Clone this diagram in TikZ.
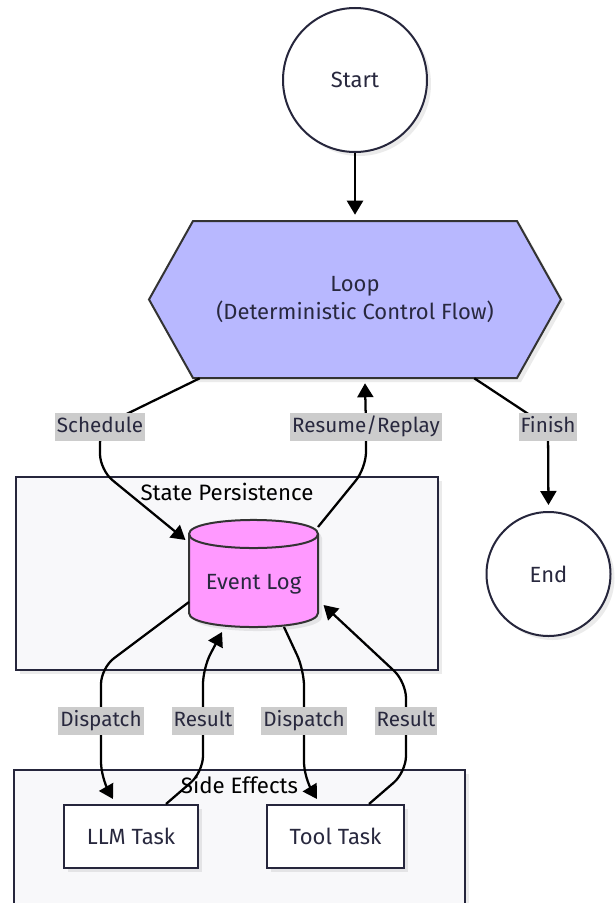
\documentclass[tikz,border=0pt]{standalone}
\usepackage{fontspec}
\setmainfont{Fira Sans}
\usetikzlibrary{arrows.meta,shadows,calc}
\definecolor{txt}{RGB}{40,40,62}
\definecolor{navy}{RGB}{38,38,60}
\definecolor{dgray}{RGB}{51,51,51}
\definecolor{hexfill}{RGB}{184,184,255}
\definecolor{cylfill}{RGB}{255,153,255}
\definecolor{clfill}{RGB}{248,248,250}
\definecolor{circfill}{RGB}{255,255,255}
\definecolor{lblfill}{RGB}{204,204,204}
\begin{document}
\begin{tikzpicture}[x=0.75pt,y=-0.75pt,
  font=\fontsize{16.5}{19}\selectfont,
  every node/.style={text=txt},
  myshadow/.style={drop shadow={shadow xshift=3pt,shadow yshift=-3pt,fill=black,opacity=0.08}},
  cluster/.style={draw=navy,line width=1.5pt,fill=clfill,myshadow},
  clusterlabel/.style={text=black,font=\fontsize{16.7}{19}\selectfont},
  roundnode/.style={circle,draw=navy,line width=1.5pt,fill=circfill,myshadow},
  taskbox/.style={rectangle,draw=navy,line width=1.5pt,fill=white,myshadow,minimum height=47.25pt},
  edge/.style={line width=1.7pt,rounded corners=12pt,-{Triangle[length=10.5pt,width=12pt]}},
  gap/.style={shorten >=4.5pt},
  edgelabel/.style={fill=lblfill,inner xsep=1.5pt,inner ysep=3pt,text height=12pt,text depth=3.5pt,
                    font=\fontsize{15.5}{18}\selectfont}
]
\useasboundingbox (0,0) rectangle (615,903);

% clusters
\filldraw[cluster] (16,477) rectangle (438,670);
\node[clusterlabel] (sp) at (227,492) {State Persistence};
\filldraw[cluster] (14,770) rectangle (465,910);
\node[clusterlabel] (se) at (239.5,785) {Side Effects};

% start / end
\node[roundnode,minimum size=108pt] (start) at (355,80) {Start};
\node[roundnode,minimum size=93pt] (end) at (548.5,574) {End};

% loop hexagon
\filldraw[draw=dgray,line width=1.5pt,fill=hexfill,myshadow]
  (193,221) -- (517,221) -- (561,299.5) -- (517,378) -- (193,378) -- (149,299.5) -- cycle;
\node[minimum width=243pt,minimum height=117.75pt,align=center,
      font=\fontsize{16.5}{21}\selectfont] (loop) at (355,299.5) {Loop\\(Deterministic Control Flow)};

% event log cylinder
\filldraw[draw=dgray,line width=1.5pt,fill=cylfill,myshadow]
  (189,534) -- (189,613) .. controls (189,631.7) and (318,631.7) .. (318,613)
  -- (318,534) .. controls (318,515.3) and (189,515.3) .. (189,534) -- cycle;
\draw[draw=dgray,line width=1.5pt] (189,534) .. controls (189,552.7) and (318,552.7) .. (318,534);
\node[minimum width=96.75pt,minimum height=64.5pt] (ev) at (253.5,584) {Event Log};

% tasks
\node[taskbox,minimum width=100.5pt] (llm) at (131,836.5) {LLM Task};
\node[taskbox,minimum width=102.75pt] (tool) at (335.5,836.5) {Tool Task};

% label positions
\coordinate (lsch) at (100,427);
\coordinate (lres) at (366,427);
\coordinate (lfin) at (548,427);
\coordinate (ld1) at (101,721);
\coordinate (lr1) at (203,721);
\coordinate (ld2) at (304,721);
\coordinate (lr2) at (406,721);

% edges
\draw[edge,gap] (start.south) -- (loop.north);
\draw[edge] ($(loop.south west)+(7,0)$) -- (lsch) -- (100,470) -- ($(ev.center)+(-68,-44)$);
\draw[edge] ($(ev.center)+(64.5,-57)$) -- (366,468) -- (lres) -- ($(loop.south)+(10,5)$);
\draw[edge,gap] ($(loop.south east)+(-43,0)$) -- (lfin) -- (end.north);
\draw[edge] ($(ev.center)+(-64.5,18)$) -- (101,668) -- (ld1) -- (101,778) -- ($(llm.north)+(-18,-5)$);
\draw[edge] ($(llm.north)+(35,0)$) -- (203,772) -- (lr1) -- (203,668) -- ($(ev.center)+(-31.5,48)$);
\draw[edge] ($(ev.center)+(30.5,43)$) -- (304,670) -- (ld2) -- (304,778) -- ($(tool.north)+(-18.5,-5)$);
\draw[edge] ($(tool.north)+(33.5,0)$) -- (406,772) -- (lr2) -- (406,682) -- ($(ev.center)+(70,21)$);

% edge labels
\node[edgelabel] (tsch) at (lsch) {Schedule};
\node[edgelabel] (tres) at (lres) {Resume/Replay};
\node[edgelabel] (tfin) at (lfin) {Finish};
\node[edgelabel] (td1) at (ld1) {Dispatch};
\node[edgelabel] (tr1) at (lr1) {Result};
\node[edgelabel] (td2) at (ld2) {Dispatch};
\node[edgelabel] (tr2) at (lr2) {Result};
\end{tikzpicture}
\end{document}
